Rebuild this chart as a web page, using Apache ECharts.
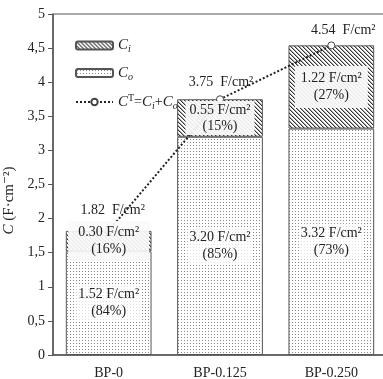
<!DOCTYPE html>
<html>
<head>
<meta charset="utf-8">
<script src="https://cdn.jsdelivr.net/npm/echarts@6/dist/echarts.min.js"></script>
<style>
  html, body { margin: 0; padding: 0; background: #fff; }
  #chart { width: 383px; height: 379px; }
</style>
</head>
<body>
<div id="chart"></div>
<script>
// data
const categories = ['BP-0', 'BP-0.125', 'BP-0.250']
const coValues = [1.52, 3.20, 3.32]
const ciValues = [0.30, 0.55, 1.22]
const ctValues = [1.82, 3.75, 4.54]
const coPercent = [84, 85, 73]
const ciPercent = [16, 15, 27]
const yTicks = [0, 0.5, 1, 1.5, 2, 2.5, 3, 3.5, 4, 4.5, 5]

const font = '"Liberation Serif", "DejaVu Serif", serif'

// small canvas tiles used as fill patterns
function makePattern (size, draw) {
  const c = document.createElement('canvas')
  c.width = size
  c.height = size
  const ctx = c.getContext('2d')
  ctx.fillStyle = '#fff'
  ctx.fillRect(0, 0, size, size)
  draw(ctx)
  return { image: c, repeat: 'repeat' }
}
const hatch = makePattern(4, ctx => {
  ctx.fillStyle = '#333'
  for (let i = 0; i < 4; i++) ctx.fillRect(i, i, 1, 1)
  ctx.fillStyle = '#aaa'
  for (let i = 0; i < 4; i++) ctx.fillRect((i + 1) % 4, i, 1, 1)
})
const dots = makePattern(3, ctx => {
  ctx.fillStyle = '#888'
  ctx.fillRect(1, 1, 1, 1)
})

const labelOffsets = [[4, -4], [1, 0], [12, 2]]
const ciPadding = [[3, 10], [1, 4], [4, 6]]
const ciLineHeight = [17, 16, 17]

const legendRich = {
  c: { fontFamily: font, fontStyle: 'italic', fontSize: 15, color: '#222' },
  s: { fontFamily: font, fontStyle: 'italic', fontSize: 10, color: '#222', padding: [8, 0, 0, 0] },
  p: { fontFamily: font, fontSize: 10, color: '#222', padding: [0, 0, 8, 0] },
  t: { fontFamily: font, fontSize: 14, color: '#222' }
}

const labelBase = {
  show: true,
  position: 'inside',
  fontFamily: font, fontSize: 14, color: '#222', lineHeight: 17
}

const myChart = echarts.init(document.getElementById('chart'))
myChart.setOption({
  animation: false,
  grid: {
    left: 53, right: -4, top: 14, bottom: 24,
    outerBoundsMode: 'none',
    containLabel: false,
    show: true, borderColor: '#555', borderWidth: 1, backgroundColor: 'transparent'
  },
  legend: {
    orient: 'vertical',
    left: 70,
    top: 33,
    itemWidth: 37,
    itemHeight: 8,
    itemGap: 11,
    data: ['Ci', 'Co', 'CT'],
    formatter: name => {
      if (name === 'Ci') return '{c|C}{s|i}'
      if (name === 'Co') return '{c|C}{s|o}'
      return '{c|C}{p|T}{t|=}{c|C}{s|i}{t|+}{c|C}{s|o}'
    },
    textStyle: { rich: legendRich }
  },
  xAxis: {
    type: 'category',
    data: categories,
    axisLine: { lineStyle: { color: '#555', width: 1.5 } },
    axisTick: { show: false },
    axisLabel: { fontFamily: font, fontSize: 14, color: '#222', margin: 11 }
  },
  yAxis: {
    type: 'value',
    min: 0,
    max: 5,
    interval: 0.5,
    name: '{i|C} (F·cm⁻²)',
    nameLocation: 'middle',
    nameGap: 24,
    nameTextStyle: {
      rich: {
        i: { fontFamily: font, fontStyle: 'italic', fontSize: 15, color: '#222' }
      },
      fontFamily: font, fontSize: 15, color: '#222',
      padding: [0, 32, 0, 0]
    },
    axisLine: { show: true, lineStyle: { color: '#555', width: 1.5 } },
    axisTick: { show: true, inside: false, length: 5, lineStyle: { color: '#555' } },
    splitLine: { show: false },
    axisLabel: {
      fontFamily: font, fontSize: 14, color: '#222', margin: 8,
      formatter: v => yTicks.includes(v) ? String(v).replace('.', ',') : ''
    }
  },
  series: [
    {
      name: 'Co',
      type: 'bar',
      stack: 'fill',
      barWidth: '77%',
      z: 2,
      data: coValues,
      itemStyle: { color: dots, borderColor: '#555', borderWidth: 1 }
    },
    {
      name: 'Ci',
      type: 'bar',
      stack: 'fill',
      z: 2,
      data: ciValues,
      itemStyle: { color: hatch, borderColor: '#555', borderWidth: 1 }
    },
    {
      name: 'CT',
      type: 'line',
      data: ctValues.map((v, i) => ({ value: v, label: { offset: labelOffsets[i] } })),
      symbol: 'circle',
      symbolSize: 7,
      z: 3,
      lineStyle: { color: '#222', width: 2, type: [2, 2] },
      itemStyle: { color: '#fff', borderColor: '#444', borderWidth: 1 },
      label: {
        show: true,
        position: 'top',
        distance: 6,
        fontFamily: font, fontSize: 14, color: '#222',
        formatter: p => ctValues[p.dataIndex].toFixed(2) + '  F/cm²'
      }
    },
    // transparent copies of the bars, only to draw the value boxes above the line
    {
      name: 'CoLabel',
      type: 'bar',
      stack: 'label',
      barWidth: '77%',
      barGap: '-100%',
      z: 4,
      silent: true,
      data: coValues,
      itemStyle: { color: 'transparent' },
      label: Object.assign({}, labelBase, {
        backgroundColor: 'rgba(255,255,255,0.75)',
        padding: [1, 2],
        formatter: p => coValues[p.dataIndex].toFixed(2) + ' F/cm²\n(' + coPercent[p.dataIndex] + '%)'
      })
    },
    {
      name: 'CiLabel',
      type: 'bar',
      stack: 'label',
      barGap: '-100%',
      z: 4,
      silent: true,
      data: ciValues.map((v, i) => ({
        value: v,
        label: { padding: ciPadding[i], lineHeight: ciLineHeight[i] }
      })),
      itemStyle: { color: 'transparent' },
      label: Object.assign({}, labelBase, {
        backgroundColor: 'rgba(250,250,250,0.92)',
        formatter: p => ciValues[p.dataIndex].toFixed(2) + ' F/cm²\n(' + ciPercent[p.dataIndex] + '%)'
      })
    }
  ]
})
</script>
</body>
</html>
